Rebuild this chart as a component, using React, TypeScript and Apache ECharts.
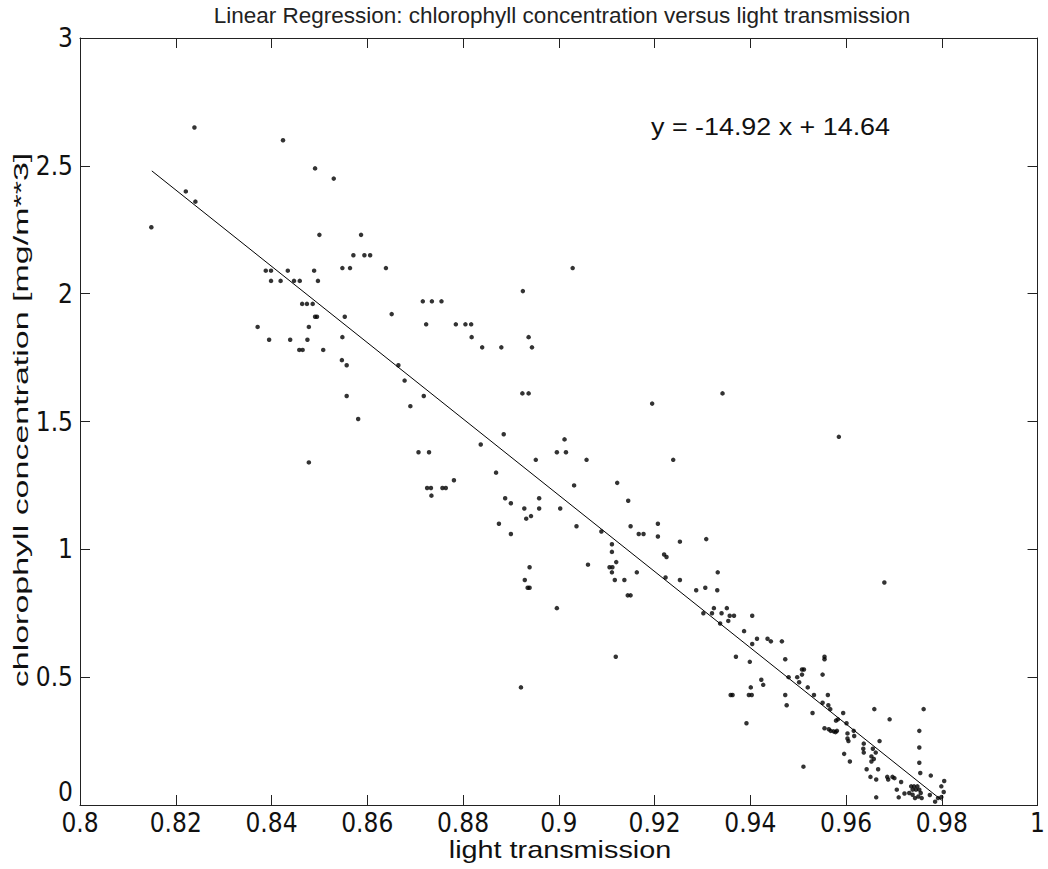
import React, { useEffect, useRef } from "react";
import * as echarts from "echarts";

// light transmission (x) and chlorophyll concentration (y)
const transmission = [
  0.8149, 0.8239, 0.8221, 0.8241, 0.8424, 0.8491, 0.8388, 0.8399, 0.8399, 0.8419,
  0.8434, 0.8447, 0.8459, 0.8489, 0.8464, 0.8474, 0.8486, 0.853, 0.85, 0.8587,
  0.8571, 0.8594, 0.8606, 0.8497, 0.8548, 0.8564, 0.8639, 0.8925, 0.8716, 0.8735,
  0.8755, 0.8491, 0.8495, 0.8553, 0.8651, 0.8371, 0.8478, 0.8395, 0.8439, 0.8475,
  0.8548, 0.8458, 0.8465, 0.8508, 0.8547, 0.8557, 0.8557, 0.8581, 0.8478, 0.9029,
  0.8723, 0.8785, 0.8805, 0.8817, 0.8818, 0.8937, 0.884, 0.888, 0.8944, 0.8665,
  0.8678, 0.869, 0.8718, 0.8707, 0.8729, 0.8725, 0.8733, 0.8734, 0.8757, 0.8764,
  0.8781, 0.8837, 0.8885, 0.8924, 0.8937, 0.8869, 0.8888, 0.89, 0.8875, 0.89,
  0.8928, 0.8932, 0.8942, 0.8952, 0.8959, 0.8959, 0.8996, 0.9012, 0.9015, 0.9003,
  0.9058, 0.9032, 0.9122, 0.9037, 0.9089, 0.9111, 0.9111, 0.912, 0.9106, 0.9112,
  0.9111, 0.9117, 0.9061, 0.8939, 0.8929, 0.8935, 0.8939, 0.8996, 0.8921, 0.9119,
  0.9302, 0.932, 0.9324, 0.934, 0.9351, 0.9357, 0.9366, 0.9354, 0.9337, 0.9404,
  0.9387, 0.9414, 0.9404, 0.9436, 0.9443, 0.9466, 0.937, 0.9399, 0.9473, 0.9423,
  0.9427, 0.9401, 0.9359, 0.9363, 0.9397, 0.9403, 0.9392, 0.9473, 0.9476, 0.948,
  0.9195, 0.9342, 0.9585, 0.9239, 0.9145, 0.915, 0.9167, 0.9177, 0.9207, 0.9207,
  0.9253, 0.9308, 0.9137, 0.9163, 0.922, 0.9225, 0.9223, 0.9253, 0.9332, 0.9331,
  0.9306, 0.9287, 0.9144, 0.915, 0.968, 0.9498, 0.9508, 0.9512, 0.9508, 0.9502,
  0.952, 0.9551, 0.9555, 0.9555, 0.9562, 0.9511, 0.9533, 0.953, 0.9551, 0.9563,
  0.9567, 0.9594, 0.9555, 0.9564, 0.9568, 0.9574, 0.9578, 0.9581, 0.9579, 0.9583,
  0.9601, 0.9603, 0.9603, 0.9605, 0.9616, 0.9617, 0.9596, 0.9608, 0.9659, 0.9637,
  0.9636, 0.9637, 0.9656, 0.9662, 0.967, 0.9653, 0.9658, 0.9653, 0.9643, 0.9667,
  0.9651, 0.9663, 0.9663, 0.9691, 0.9686, 0.9688, 0.9697, 0.9701, 0.9706, 0.9715,
  0.971, 0.9722, 0.9762, 0.9753, 0.9753, 0.9753, 0.9755, 0.9777, 0.9786, 0.9799,
  0.9805, 0.9804, 0.9799, 0.9792, 0.9775, 0.9736, 0.9742, 0.9749, 0.9739, 0.9746,
  0.9753, 0.9756, 0.9732, 0.9739, 0.9751, 0.9758, 0.9744,
];

const chlorophyll = [
  2.26, 2.65, 2.4, 2.36, 2.6, 2.49, 2.09, 2.09, 2.05, 2.05,
  2.09, 2.05, 2.05, 2.09, 1.96, 1.96, 1.96, 2.45, 2.23, 2.23,
  2.15, 2.15, 2.15, 2.05, 2.1, 2.1, 2.1, 2.01, 1.97, 1.97,
  1.97, 1.91, 1.91, 1.91, 1.92, 1.87, 1.87, 1.82, 1.82, 1.82,
  1.83, 1.78, 1.78, 1.78, 1.74, 1.72, 1.6, 1.51, 1.34, 2.1,
  1.88, 1.88, 1.88, 1.88, 1.83, 1.83, 1.79, 1.79, 1.79, 1.72,
  1.66, 1.56, 1.6, 1.38, 1.38, 1.24, 1.24, 1.21, 1.24, 1.24,
  1.27, 1.41, 1.45, 1.61, 1.61, 1.3, 1.2, 1.18, 1.1, 1.06,
  1.16, 1.12, 1.13, 1.35, 1.2, 1.16, 1.38, 1.43, 1.38, 1.16,
  1.35, 1.25, 1.26, 1.09, 1.07, 1.02, 0.99, 0.95, 0.93, 0.93,
  0.91, 0.88, 0.94, 0.93, 0.88, 0.85, 0.85, 0.77, 0.46, 0.58,
  0.75, 0.75, 0.77, 0.75, 0.77, 0.74, 0.74, 0.72, 0.71, 0.74,
  0.68, 0.65, 0.63, 0.65, 0.64, 0.64, 0.58, 0.56, 0.57, 0.49,
  0.47, 0.46, 0.43, 0.43, 0.43, 0.43, 0.32, 0.43, 0.39, 0.5,
  1.57, 1.61, 1.44, 1.35, 1.19, 1.09, 1.06, 1.06, 1.1, 1.05,
  1.03, 1.04, 0.88, 0.91, 0.98, 0.97, 0.89, 0.88, 0.91, 0.84,
  0.85, 0.84, 0.82, 0.82, 0.87, 0.5, 0.53, 0.53, 0.51, 0.48,
  0.46, 0.51, 0.58, 0.57, 0.43, 0.15, 0.43, 0.36, 0.4, 0.39,
  0.375, 0.36, 0.3, 0.296, 0.29, 0.288, 0.285, 0.29, 0.33, 0.335,
  0.32, 0.28, 0.26, 0.25, 0.29, 0.27, 0.2, 0.17, 0.375, 0.24,
  0.22, 0.205, 0.22, 0.205, 0.25, 0.19, 0.18, 0.17, 0.14, 0.14,
  0.11, 0.1, 0.03, 0.335, 0.11, 0.1, 0.11, 0.105, 0.06, 0.09,
  0.03, 0.045, 0.375, 0.29, 0.225, 0.165, 0.125, 0.115, 0.013, 0.073,
  0.094, 0.051, 0.031, 0.027, 0.039, 0.073, 0.073, 0.073, 0.06, 0.06,
  0.06, 0.047, 0.047, 0.04, 0.033, 0.027, 0.027,
];

// regression line y = slope * x + intercept, drawn over the data's x range
const slope = -14.92;
const intercept = 14.64;
const fitXRange = [0.815, 0.98];

const titleText = "Linear Regression: chlorophyll concentration versus light transmission";
const equationText = "y = -14.92 x + 14.64";
const xName = "light transmission";
const yName = "chlorophyll concentration [mg/m**3]";

const xMin = 0.8, xMax = 1.0, xStep = 0.02;
const yMin = 0, yMax = 3, yStep = 0.5;

export default function App() {
  const ref = useRef<HTMLDivElement>(null);
  useEffect(() => {
    document.body.style.margin = "0";
    const chart = echarts.init(ref.current!, null, { renderer: "svg" });
    const font = "'Liberation Sans', Arial, Helvetica, sans-serif";
    const narrow = "'Liberation Sans Narrow', 'DejaVu Sans Condensed', 'Liberation Sans', sans-serif";
    const fmt = (v: number) => String(parseFloat(Number(v).toFixed(2)));
    const axisLine = { show: true, onZero: false, lineStyle: { color: "#222", width: 1 } };
    const tick = { show: true, inside: true, length: 10, lineStyle: { color: "#222", width: 1 } };
    const labelStyle = { fontFamily: narrow, fontSize: 26, color: "#111" };
    const points = transmission.map((x, i) => [x, chlorophyll[i]]);
    const fit = fitXRange.map((x) => [x, slope * x + intercept]);

    chart.setOption({
      animation: false,
      backgroundColor: "#ffffff",
      grid: { left: 80, right: 4, top: 38, bottom: 64 },
      xAxis: [
        {
          type: "value", min: xMin, max: xMax, interval: xStep, position: "bottom",
          axisLine, axisTick: tick, splitLine: { show: false },
          axisLabel: { ...labelStyle, formatter: fmt, margin: 5, showMinLabel: true, showMaxLabel: true },
        },
        {
          type: "value", min: xMin, max: xMax, interval: xStep, position: "top",
          axisLine, axisTick: tick, splitLine: { show: false }, axisLabel: { show: false },
        },
      ],
      yAxis: [
        {
          type: "value", min: yMin, max: yMax, interval: yStep, position: "left",
          axisLine, axisTick: tick, splitLine: { show: false },
          axisLabel: { ...labelStyle, formatter: fmt, margin: 7, verticalAlignMinLabel: "bottom" },
        },
        {
          type: "value", min: yMin, max: yMax, interval: yStep, position: "right",
          axisLine, axisTick: tick, splitLine: { show: false }, axisLabel: { show: false },
        },
      ],
      graphic: [
        {
          type: "text", x: 562, y: 15,
          style: { text: titleText, fontFamily: font, fontSize: 22.5, fill: "#222", textAlign: "center", textVerticalAlign: "middle" },
        },
        {
          type: "text", x: 651, y: 127, scaleX: 1.12,
          style: { text: equationText, fontFamily: font, fontSize: 24, fill: "#111", textAlign: "left", textVerticalAlign: "middle" },
        },
        {
          type: "text", x: 560, y: 850, scaleX: 1.2,
          style: { text: xName, fontFamily: font, fontSize: 24, fill: "#111", textAlign: "center", textVerticalAlign: "middle" },
        },
        {
          type: "text", x: 21, y: 420, rotation: Math.PI / 2, scaleX: 1.7,
          style: { text: yName, fontFamily: font, fontSize: 20, fill: "#111", textAlign: "center", textVerticalAlign: "middle" },
        },
      ],
      series: [
        {
          type: "scatter", data: points, symbol: "circle", symbolSize: 4.5,
          itemStyle: { color: "#000" }, xAxisIndex: 0, yAxisIndex: 0,
        },
        {
          type: "line", data: fit, symbol: "none", xAxisIndex: 0, yAxisIndex: 0,
          lineStyle: { color: "#000", width: 1 },
        },
      ],
    });
    return () => chart.dispose();
  }, []);
  return <div ref={ref} style={{ width: 1048, height: 869 }} />;
}
